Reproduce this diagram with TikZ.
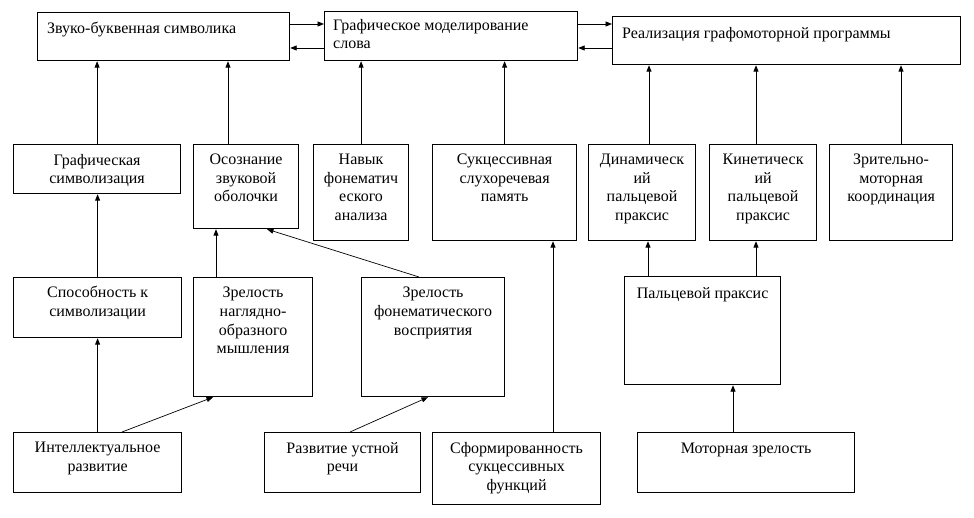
\documentclass[tikz,border=0pt]{standalone}
\usepackage{fontspec}
\setmainfont{Liberation Serif}
\usetikzlibrary{arrows.meta,calc}
\begin{document}
\begin{tikzpicture}[x=1pt,y=-1pt,
  bx/.style={draw, line width=1.2pt, anchor=north west, inner sep=0pt},
  tx/.style={anchor=north, align=center, inner sep=0pt, font=\fontsize{16}{18.6}\selectfont},
  txl/.style={anchor=north west, align=left, inner sep=0pt, font=\fontsize{16}{18.6}\selectfont},
  arr/.style={line width=0.9pt, -{Triangle[length=6.5pt,width=5pt]}},
  darr/.style={line width=0.7pt, -{Triangle[length=6.5pt,width=5pt]}}]
\useasboundingbox (0,0) rectangle (974,518);
\newcommand\mybox[5]{\node[bx, minimum width={#4-#2}, minimum height={#5-#3}] (#1) at (#2,#3) {};}
% top row
\mybox{a}{37}{12}{289}{60}
\mybox{b}{324}{11}{577}{60}
\mybox{c}{612}{16}{960}{64}
% second row
\mybox{g1}{13}{144}{180}{193}
\mybox{g2}{193}{144}{298}{228}
\mybox{g3}{313}{144}{408}{240}
\mybox{g4}{432}{144}{576}{240}
\mybox{g5}{588}{144}{695}{240}
\mybox{g6}{709}{144}{816}{240}
\mybox{g7}{829}{144}{952}{240}
% third row
\mybox{s1}{13}{277}{181}{337}
\mybox{s2}{193}{277}{312}{396}
\mybox{s3}{361}{277}{504}{396}
\mybox{p}{624}{276}{780}{384}
% bottom row
\mybox{i}{13}{432}{181}{492}
\mybox{r}{264}{432}{420}{492}
\mybox{f}{432}{432}{600}{504}
\mybox{m}{637}{432}{854}{492}
% texts
\node[txl] (at) at ($(a.north west)+(10,10)$) {Звуко-буквенная символика};
\node[txl] (bt) at ($(b.north west)+(9,8)$) {Графическое моделирование\\слова};
\node[txl] (ct) at ($(c.north west)+(10,11)$) {Реализация графомоторной программы};
\node[tx] (g1t) at ($(g1.north)+(0,10)$) {Графическая\\символизация};
\node[tx] (g2t) at ($(g2.north)+(0,10)$) {Осознание\\звуковой\\оболочки};
\node[tx] (g3t) at ($(g3.north)+(0,10)$) {Навык\\фонематич\\еского\\анализа};
\node[tx] (g4t) at ($(g4.north)+(0,10)$) {Сукцессивная\\слухоречевая\\память};
\node[tx] (g5t) at ($(g5.north)+(0,10)$) {Динамическ\\ий\\пальцевой\\праксис};
\node[tx] (g6t) at ($(g6.north)+(0,10)$) {Кинетическ\\ий\\пальцевой\\праксис};
\node[tx] (g7t) at ($(g7.north)+(0,10)$) {Зрительно-\\моторная\\координация};
\node[tx] (s1t) at ($(s1.north)+(0,9)$) {Способность к\\символизации};
\node[tx] (s2t) at ($(s2.north)+(0,10)$) {Зрелость\\наглядно-\\образного\\мышления};
\node[tx] (s3t) at ($(s3.north)+(0,10)$) {Зрелость\\фонематического\\восприятия};
\node[tx] (pt) at ($(p.north)+(0,11)$) {Пальцевой праксис};
\node[tx] (it) at ($(i.north)+(0,10)$) {Интеллектуальное\\развитие};
\node[tx] (rt) at ($(r.north)+(0,10)$) {Развитие устной\\речи};
\node[tx] (ft) at ($(f.north)+(0,10)$) {Сформированность\\сукцессивных\\функций};
\node[tx] (mt) at ($(m.north)+(0,11)$) {Моторная зрелость};
% horizontal arrows in the top row
\coordinate (ab) at ($(a.north east)+(0,12)$);
\coordinate (ba) at ($(a.north east)+(0,36)$);
\coordinate (bc) at ($(b.north east)+(0,13)$);
\coordinate (cb) at ($(b.north east)+(0,37)$);
\draw[arr] (ab) -- (ab -| b.west);
\draw[arr] (ba -| b.west) -- (ba);
\draw[arr] (bc) -- (bc -| c.west);
\draw[arr] (cb -| c.west) -- (cb);
% second row to top row
\coordinate (g2o) at ($(g2.north west)+(35,0)$);
\coordinate (g5o) at ($(g5.north west)+(61,0)$);
\coordinate (g6o) at ($(g6.north west)+(47,0)$);
\coordinate (g7o) at ($(g7.north west)+(72,0)$);
\draw[arr] (g1.north) -- (g1.north |- a.south);
\draw[arr] (g2o) -- (g2o |- a.south);
\draw[arr] (g3.north) -- (g3.north |- b.south);
\draw[arr] (g4.north) -- (g4.north |- b.south);
\draw[arr] (g5o) -- (g5o |- c.south);
\draw[arr] (g6o) -- (g6o |- c.south);
\draw[arr] (g7o) -- (g7o |- c.south);
% third row to second row
\coordinate (s2o) at ($(s2.north west)+(23,0)$);
\coordinate (po5) at ($(p.north west)+(24,0)$);
\coordinate (po6) at ($(p.north west)+(132,0)$);
\draw[arr] (s1.north) -- (s1.north |- g1.south);
\draw[arr] (s2o) -- (s2o |- g2.south);
\draw[darr] ($(s3.north west)+(58,0)$) -- ($(g2.south west)+(74,0)$);
\draw[arr] (po5) -- (po5 |- g5.south);
\draw[arr] (po6) -- (po6 |- g6.south);
% bottom row
\coordinate (fo) at ($(f.north west)+(121,0)$);
\coordinate (mo) at ($(m.north west)+(96,0)$);
\draw[arr] (i.north) -- (i.north |- s1.south);
\draw[darr] ($(i.north west)+(109,0)$) -- ($(s2.south west)+(20,0)$);
\draw[darr] ($(r.north west)+(86,0)$) -- ($(s3.south west)+(67,0)$);
\draw[arr] (fo) -- (fo |- g4.south);
\draw[arr] (mo) -- (mo |- p.south);
\end{tikzpicture}
\end{document}
